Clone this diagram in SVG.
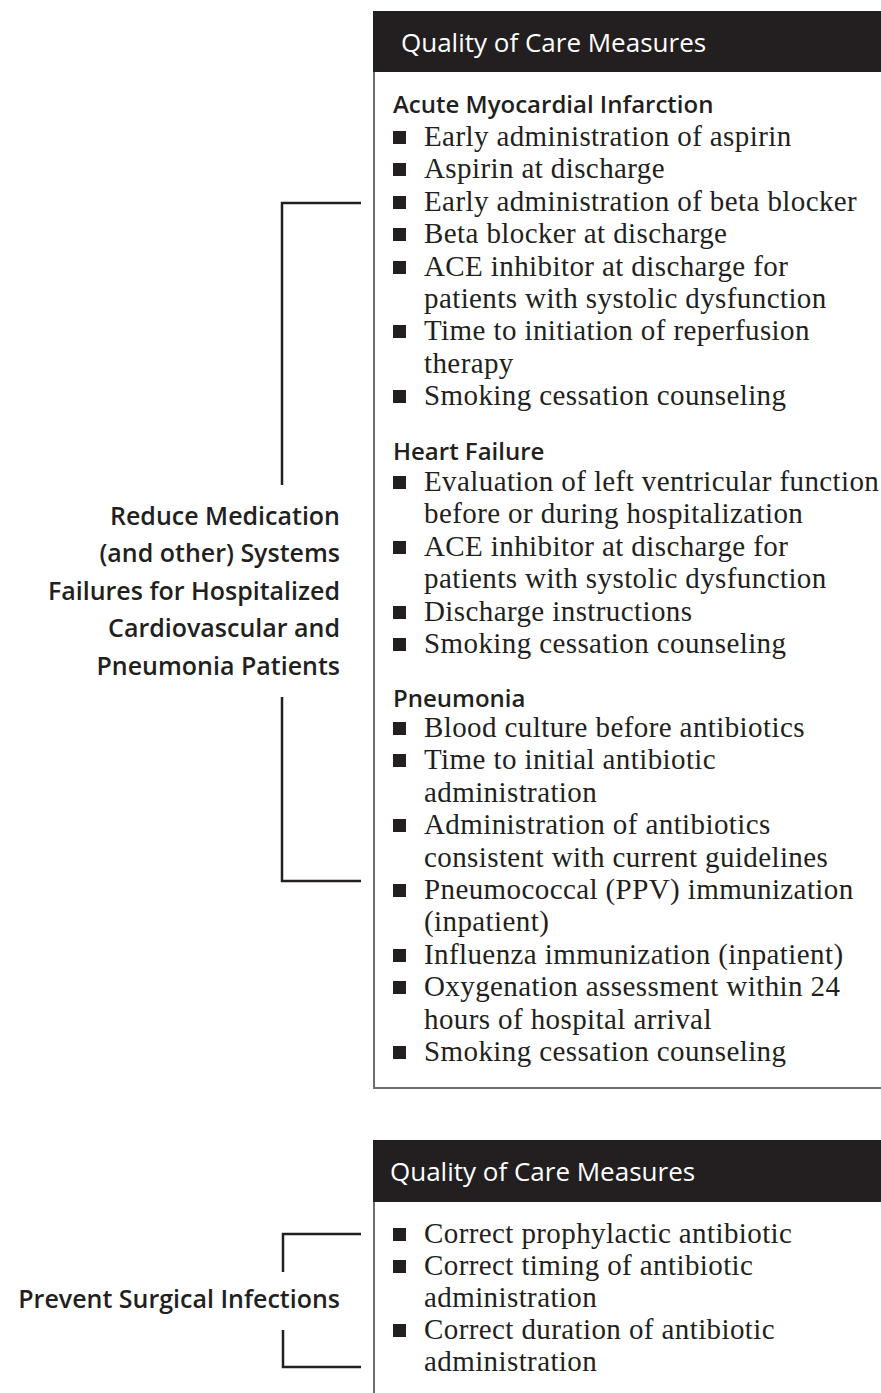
<svg xmlns="http://www.w3.org/2000/svg" width="881" height="1393" viewBox="0 0 881 1393">
<style>
.hdr{fill:#231f20}
.hdrtxt{font-family:"Open Sans","Liberation Sans",sans-serif;font-size:26px;fill:#ffffff}
.sec{font-family:"Open Sans","Liberation Sans",sans-serif;font-size:24px;font-weight:600;fill:#231f20}
.lbl{font-family:"Open Sans","Liberation Sans",sans-serif;font-size:25px;font-weight:600;fill:#231f20;text-anchor:end}
.it{font-family:"Liberation Serif","Times New Roman",serif;font-size:29px;letter-spacing:0.4px;fill:#231f20}
.border{fill:none;stroke:#6d6e71;stroke-width:2}
.br{fill:none;stroke:#231f20;stroke-width:2.5}
.bul{fill:#231f20}
</style>
<defs>
<rect id="b" width="13" height="13" class="bul"/>
</defs>
<rect width="881" height="1393" fill="#ffffff"/>

<g id="label-reduce">
<text class="lbl" x="340" y="525">Reduce Medication</text>
<text class="lbl" x="340" y="562">(and other) Systems</text>
<text class="lbl" x="340" y="600">Failures for Hospitalized</text>
<text class="lbl" x="340" y="637">Cardiovascular and</text>
<text class="lbl" x="340" y="675">Pneumonia Patients</text>
</g>

<g id="label-surgical">
<text class="lbl" x="340" y="1308">Prevent Surgical Infections</text>
</g>

<g id="box-1">
<polyline class="border" points="374,72 374,1088 881,1088"/>
<rect class="hdr" x="373" y="11" width="508" height="61"/>
<text class="hdrtxt" x="401" y="52">Quality of Care Measures</text>

<text class="sec" x="393" y="113">Acute Myocardial Infarction</text>
<use href="#b" x="393" y="131"/><text class="it" x="424" y="146">Early administration of aspirin</text>
<use href="#b" x="393" y="163"/><text class="it" x="424" y="178">Aspirin at discharge</text>
<use href="#b" x="393" y="196"/><text class="it" x="424" y="211">Early administration of beta blocker</text>
<use href="#b" x="393" y="228"/><text class="it" x="424" y="243">Beta blocker at discharge</text>
<use href="#b" x="393" y="261"/><text class="it" x="424" y="276">ACE inhibitor at discharge for</text>
<text class="it" x="424" y="308">patients with systolic dysfunction</text>
<use href="#b" x="393" y="325"/><text class="it" x="424" y="340">Time to initiation of reperfusion</text>
<text class="it" x="424" y="373">therapy</text>
<use href="#b" x="393" y="390"/><text class="it" x="424" y="405">Smoking cessation counseling</text>

<text class="sec" x="393" y="460">Heart Failure</text>
<use href="#b" x="393" y="476"/><text class="it" x="424" y="491">Evaluation of left ventricular function</text>
<text class="it" x="424" y="523">before or during hospitalization</text>
<use href="#b" x="393" y="541"/><text class="it" x="424" y="556">ACE inhibitor at discharge for</text>
<text class="it" x="424" y="588">patients with systolic dysfunction</text>
<use href="#b" x="393" y="606"/><text class="it" x="424" y="621">Discharge instructions</text>
<use href="#b" x="393" y="638"/><text class="it" x="424" y="653">Smoking cessation counseling</text>

<text class="sec" x="393" y="707">Pneumonia</text>
<use href="#b" x="393" y="722"/><text class="it" x="424" y="737">Blood culture before antibiotics</text>
<use href="#b" x="393" y="754"/><text class="it" x="424" y="769">Time to initial antibiotic</text>
<text class="it" x="424" y="802">administration</text>
<use href="#b" x="393" y="819"/><text class="it" x="424" y="834">Administration of antibiotics</text>
<text class="it" x="424" y="867">consistent with current guidelines</text>
<use href="#b" x="393" y="884"/><text class="it" x="424" y="899">Pneumococcal (PPV) immunization</text>
<text class="it" x="424" y="931">(inpatient)</text>
<use href="#b" x="393" y="949"/><text class="it" x="424" y="964">Influenza immunization (inpatient)</text>
<use href="#b" x="393" y="981"/><text class="it" x="424" y="996">Oxygenation assessment within 24</text>
<text class="it" x="424" y="1029">hours of hospital arrival</text>
<use href="#b" x="393" y="1046"/><text class="it" x="424" y="1061">Smoking cessation counseling</text>
</g>

<g id="box-2">
<line class="border" x1="374" y1="1202" x2="374" y2="1393"/>
<rect class="hdr" x="373" y="1140" width="508" height="62"/>
<text class="hdrtxt" x="390" y="1181">Quality of Care Measures</text>
<use href="#b" x="393" y="1228"/><text class="it" x="424" y="1243">Correct prophylactic antibiotic</text>
<use href="#b" x="393" y="1260"/><text class="it" x="424" y="1275">Correct timing of antibiotic</text>
<text class="it" x="424" y="1307">administration</text>
<use href="#b" x="393" y="1324"/><text class="it" x="424" y="1339">Correct duration of antibiotic</text>
<text class="it" x="424" y="1371">administration</text>
</g>

<g id="connectors">
<polyline class="br" points="361,203 282,203 282,485"/>
<polyline class="br" points="282,697 282,881 361,881"/>
<polyline class="br" points="361,1234 283,1234 283,1272"/>
<polyline class="br" points="283,1330 283,1367 361,1367"/>
</g>
</svg>
